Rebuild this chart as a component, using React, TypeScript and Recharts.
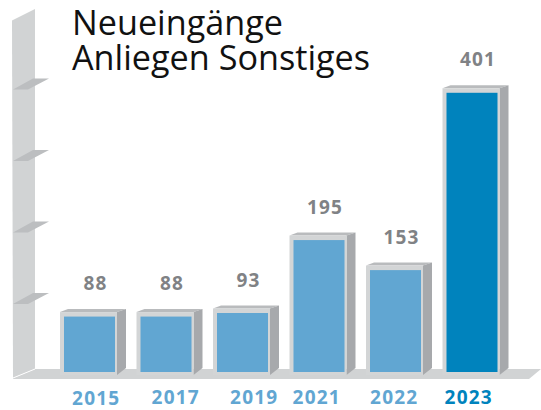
import React from "react";
import { ComposedChart, Bar, XAxis, YAxis, LabelList } from "recharts";

const years = ["2015", "2017", "2019", "2021", "2022", "2023"];
const values = [88, 88, 93, 195, 153, 401];
const shelfTicks = [100, 200, 300, 400];
const titleLines = ["Neueingänge", "Anliegen Sonstiges"];
const HIGHLIGHT = "2023";
const tickNudgeX = [8, 11, 13, -1, 0, -2];
const tickNudgeY = [0, -1, -1, -1, -1, -1];

const tableData = years.map((year, i) => ({ year, value: values[i] }));

const FONT = "'Open Sans', 'Noto Sans', sans-serif";
const WALL = "#d1d3d4";
const SHELF = "#bcbec0";
const SIDE = "#a7a9ac";
const CAP = "#b9bbbd";
const FRONT = "#d3d5d6";
const BLUE = "#61a6d2";
const DEEP = "#0083bd";
const GREY = "#808285";

function Backdrop() {
  return (
    <svg width={541} height={410} style={{ position: "absolute", left: 0, top: 0 }}>
      <polygon points="12,20.5 35,9 35,369 13,378" fill={WALL} />
      <polygon points="13,378 35,369 541,369 529,379 13,379" fill={WALL} />
      <line x1={13} y1={378} x2={35} y2={369} stroke="#ffffff" strokeWidth={1} />
      {titleLines.map((t, i) => (
        <text key={t} x={72} y={35 + i * 35} fontFamily={FONT} fontSize={34.2} fill="#111111">
          {t}
        </text>
      ))}
    </svg>
  );
}

function Shelf(props: any) {
  const y = props.y + 0.5;
  return <polygon points={`13,${y} 33,${y - 11} 49,${y - 11} 28,${y}`} fill={SHELF} />;
}

function Bar3D(props: any) {
  const { x, y, width, height, payload } = props;
  const r = x + width;
  const b = y + height;
  const fill = payload.year === HIGHLIGHT ? DEEP : BLUE;
  return (
    <g>
      <polygon points={`${x},${y} ${x + 8},${y - 3} ${r + 9},${y - 3} ${r},${y}`} fill={CAP} />
      <polygon points={`${r},${y} ${r + 9},${y - 3} ${r + 9},${b - 7} ${r},${b}`} fill={SIDE} />
      <rect x={x} y={y} width={width} height={height} fill={FRONT} />
      <rect x={x + 4} y={y + 4.5} width={width - 6} height={height - 7.5} fill={fill} />
    </g>
  );
}

function ValueLabel(props: any) {
  const { x, y, width, value } = props;
  return (
    <text
      x={x + width / 2 + 7}
      y={y - 22}
      textAnchor="middle"
      fontFamily={FONT}
      fontWeight={700}
      fontSize={19}
      letterSpacing={1.2}
      fill={GREY}
    >
      {value}
    </text>
  );
}

function YearTick(props: any) {
  const { x, y, payload, index } = props;
  return (
    <text
      x={x + tickNudgeX[index]}
      y={y + 22 + tickNudgeY[index]}
      textAnchor="middle"
      fontFamily={FONT}
      fontWeight={700}
      fontSize={19}
      letterSpacing={1.2}
      fill={payload.value === HIGHLIGHT ? DEEP : BLUE}
    >
      {payload.value}
    </text>
  );
}

export default function App() {
  return (
    <div style={{ position: "absolute", left: 0, top: 0, width: 541, height: 410 }}>
      <Backdrop />
      <div style={{ position: "absolute", left: 0, top: 0 }}>
        <ComposedChart
          width={541}
          height={410}
          data={tableData}
          margin={{ left: 49, right: 32, top: 17.5, bottom: 0 }}
          barCategoryGap={0}
        >
          <XAxis dataKey="year" axisLine={false} tickLine={false} height={35} tick={YearTick} interval={0} />
          <YAxis
            domain={[0, 500]}
            ticks={shelfTicks}
            width={1}
            axisLine={false}
            tickLine={false}
            tick={Shelf}
          />
          <Bar dataKey="value" barSize={57} shape={Bar3D} isAnimationActive={false}>
            <LabelList dataKey="value" content={ValueLabel} />
          </Bar>
        </ComposedChart>
      </div>
    </div>
  );
}
